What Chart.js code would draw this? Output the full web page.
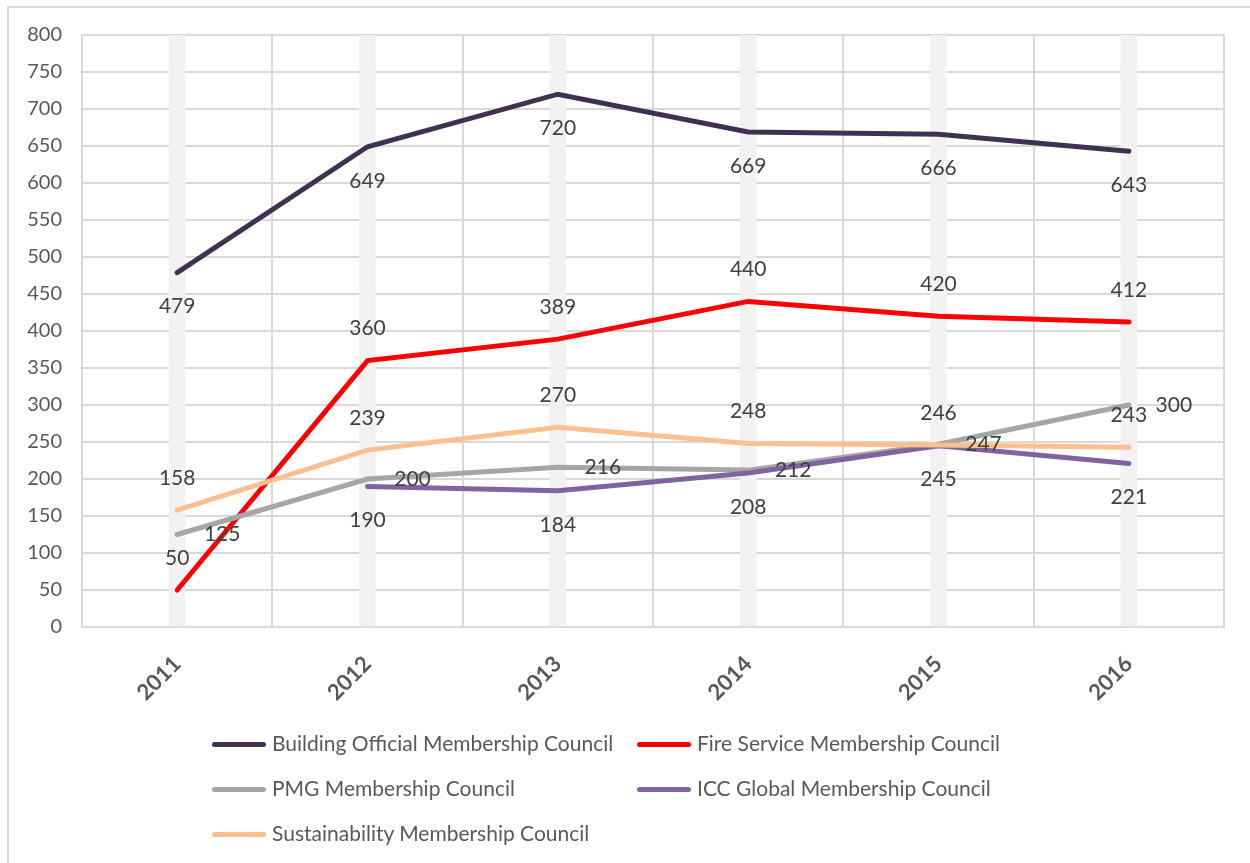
<!DOCTYPE html>
<html>
<head>
<meta charset="utf-8">
<script src="https://cdn.jsdelivr.net/npm/chart.js@4/dist/chart.umd.min.js"></script>
<style>
  body { margin: 0; background: #fff; font-family: Lato, "Open Sans", sans-serif; }
  #wrap { position: relative; width: 1250px; height: 863px; overflow: hidden; }
  #frame { position: absolute; left: 7px; top: 6px; right: -5px; bottom: -5px; border: 2px solid #d9d9d9; }
  canvas { position: absolute; left: 0; top: 0; }
  .leg { position: absolute; font-size: 21px; color: #595959; white-space: nowrap; line-height: 24px; }
  .leg span.sw { display: inline-block; width: 54px; height: 5px; border-radius: 3px; vertical-align: middle; margin-right: 6px; position: relative; top: -1px; }
</style>
</head>
<body>
<div id="wrap">
  <div id="frame"></div>
  <canvas id="memberChart" width="1250" height="863"></canvas>
  <div id="legend"></div>
</div>
<script>
const years = ['2011', '2012', '2013', '2014', '2015', '2016'];
const buildingOfficial = [479, 649, 720, 669, 666, 643];
const fireService = [50, 360, 389, 440, 420, 412];
const pmg = [125, 200, 216, 212, 247, 300];
const iccGlobal = [null, 190, 184, 208, 245, 221];
const sustainability = [158, 239, 270, 248, 246, 243];
const bands = [800, 800, 800, 800, 800, 800];

const series = [
  { label: 'Building Official Membership Council', data: buildingOfficial, color: '#403152', off: [0, 34], order: 5 },
  { label: 'Fire Service Membership Council', data: fireService, color: '#ff0000', off: [0, -32], order: 4 },
  { label: 'PMG Membership Council', data: pmg, color: '#a6a6a6', off: [45, 0], order: 3 },
  { label: 'ICC Global Membership Council', data: iccGlobal, color: '#8064a2', off: [0, 34], order: 2 },
  { label: 'Sustainability Membership Council', data: sustainability, color: '#fac090', off: [0, -32], order: 1 }
];

// value labels next to each point
const pointLabels = {
  id: 'pointLabels',
  afterDatasetsDraw(chart) {
    const c = chart.ctx;
    c.save();
    c.font = '21px Lato, "Open Sans", sans-serif';
    c.fillStyle = '#404040';
    c.textAlign = 'center';
    c.textBaseline = 'middle';
    chart.data.datasets.forEach((ds, i) => {
      if (!ds.off) return;
      chart.getDatasetMeta(i).data.forEach((pt, j) => {
        const v = ds.data[j];
        if (v == null) return;
        c.fillText(String(v), pt.x + ds.off[0], pt.y + ds.off[1]);
      });
    });
    c.restore();
  }
};

const datasets = series.map(s => ({
  type: 'line',
  label: s.label,
  data: s.data,
  borderColor: s.color,
  backgroundColor: s.color,
  borderWidth: 5,
  pointRadius: 0,
  tension: 0,
  borderCapStyle: 'round',
  order: s.order,
  off: s.off
}));
datasets.push({
  type: 'bar',
  label: 'bands',
  data: bands,
  backgroundColor: '#f2f2f2',
  barThickness: 16,
  order: 10
});

const ctx = document.getElementById('memberChart').getContext('2d');
const memberChart = new Chart(ctx, {
  data: { labels: years, datasets: datasets },
  options: {
    responsive: false,
    animation: false,
    layout: { padding: { left: 0, top: 35, right: 26, bottom: 0 } },
    plugins: { legend: { display: false }, tooltip: { enabled: false } },
    scales: {
      x: {
        grid: { color: '#d9d9d9', lineWidth: 2, drawTicks: false, offset: true },
        border: { color: '#d9d9d9', width: 2 },
        ticks: {
          minRotation: 45, maxRotation: 45, padding: 24,
          color: '#595959',
          font: { family: 'Lato, "Open Sans", sans-serif', size: 22, weight: 'bold' }
        },
        afterFit(scale) { scale.height = 236; }
      },
      y: {
        min: 0, max: 800,
        grid: { color: '#d9d9d9', lineWidth: 2, drawTicks: false },
        border: { color: '#d9d9d9', width: 2 },
        ticks: {
          stepSize: 50, padding: 20,
          color: '#595959',
          font: { family: 'Lato, "Open Sans", sans-serif', size: 20 }
        },
        afterFit(scale) { scale.width = 82; }
      }
    }
  },
  plugins: [pointLabels]
});

// legend in two columns like the original
const legendPos = [[212, 743], [637, 743], [212, 788], [637, 788], [212, 833]];
const legendEl = document.getElementById('legend');
series.forEach((s, i) => {
  const d = document.createElement('div');
  d.className = 'leg';
  d.style.left = legendPos[i][0] + 'px';
  d.style.top = (legendPos[i][1] - 12) + 'px';
  d.innerHTML = '<span class="sw" style="background:' + s.color + '"></span>' + s.label;
  legendEl.appendChild(d);
});
</script>
</body>
</html>
